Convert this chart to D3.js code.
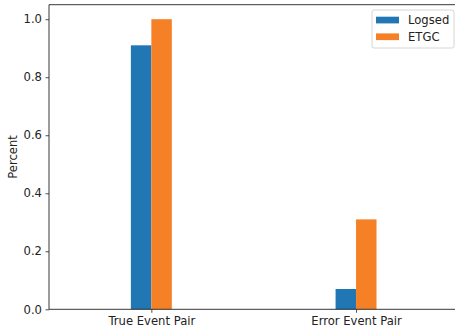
<!DOCTYPE html>
<html><head><meta charset="utf-8">
<script src="https://cdn.jsdelivr.net/npm/d3@7"></script>
<style>body{margin:0;background:#fff;overflow:hidden}svg{display:block}text{font-family:"DejaVu Sans",sans-serif}</style>
</head><body><svg id="c" width="455" height="333"></svg>
<script>
const categories = ["True Event Pair", "Error Event Pair"];
const seriesNames = ["Logsed", "ETGC"];
const logsed = [0.91, 0.07];
const etgc = [1.0, 0.31];
const yTicks = [0.0, 0.2, 0.4, 0.6, 0.8, 1.0];
const colors = ["#2077b4", "#f58025"];

const svg = d3.select("#c");
const L = 49, T = 4.7, B = 309.3;
const FS = "11.6px";
const x = d3.scaleLinear().domain([-0.5, 1.5]).range([L, L + 2 * 204.7]);
const y = d3.scaleLinear().domain([0, 1.05]).range([B, T]);
const barW = 0.1;
const series = [logsed, etgc];

const g = svg.append("g");
series.forEach((vals, si) => {
  g.selectAll(null).data(vals).enter().append("rect")
    .attr("x", (d, i) => x(i + (si === 0 ? -barW : 0)))
    .attr("width", x(barW) - x(0))
    .attr("y", d => y(d))
    .attr("height", d => y(0) - y(d))
    .attr("fill", colors[si]);
});

const yAxis = d3.axisLeft(y).tickValues(yTicks).tickFormat(d3.format(".1f")).tickSize(3.5).tickPadding(3.5);
const ya = svg.append("g").attr("transform", `translate(${L},0)`).call(yAxis);
const xAxis = d3.axisBottom(x).tickValues([0, 1]).tickFormat(i => categories[i]).tickSize(3.5).tickPadding(3.5);
const xa = svg.append("g").attr("transform", `translate(0,${B})`).call(xAxis);
[ya, xa].forEach(a => {
  a.select(".domain").remove();
  a.selectAll(".tick line").attr("stroke", "#222").attr("stroke-width", 0.8);
  a.selectAll(".tick text").attr("fill", "#222").style("font-size", FS).style("font-family", "DejaVu Sans");
});
const sp = svg.append("g").attr("fill", "none").attr("stroke", "#222").attr("stroke-width", 0.9);
sp.append("line").attr("x1", L).attr("x2", L).attr("y1", T).attr("y2", B);
sp.append("line").attr("x1", L).attr("x2", 455).attr("y1", B).attr("y2", B);
sp.append("line").attr("x1", L).attr("x2", 455).attr("y1", T).attr("y2", T);

svg.append("text").attr("transform", `translate(17,${(T + B) / 2}) rotate(-90)`)
  .attr("text-anchor", "middle").attr("fill", "#222").style("font-size", FS).text("Percent");

const lg = svg.append("g");
lg.append("rect").attr("x", 372).attr("y", 10).attr("width", 82).attr("height", 38)
  .attr("rx", 2).attr("fill", "#fff").attr("fill-opacity", 0.8).attr("stroke", "#ccc").attr("stroke-width", 0.8);
seriesNames.forEach((n, i) => {
  lg.append("rect").attr("x", 376).attr("y", 16.7 + i * 16.7).attr("width", 23).attr("height", 6.7).attr("fill", colors[i]);
  lg.append("text").attr("x", 408).attr("y", 20 + i * 16.7).attr("dy", "0.35em").attr("fill", "#222").style("font-size", FS).text(n);
});
</script></body></html>
